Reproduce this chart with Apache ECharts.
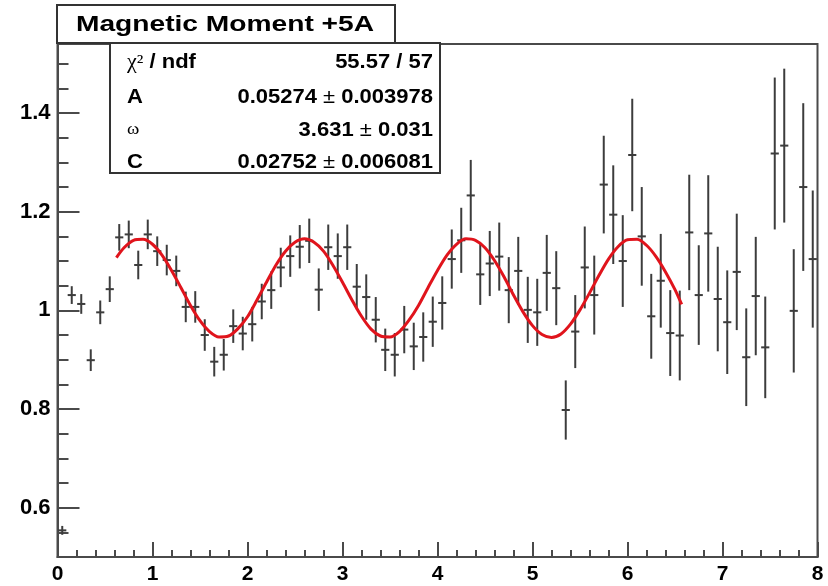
<!DOCTYPE html>
<html>
<head>
<meta charset="utf-8">
<title>Magnetic Moment +5A</title>
<script src="https://cdn.jsdelivr.net/npm/echarts@6.0.0/dist/echarts.min.js"></script>
<style>
  html, body { margin: 0; padding: 0; background: #fff; }
  #chart { width: 828px; height: 586px; }
</style>
</head>
<body>
<div id="chart"></div>
<script>
  // histogram bin centres (bin width 0.1)
  const binCenters = [
    0.05, 0.15, 0.25, 0.35, 0.45, 0.55, 0.65, 0.75, 0.85, 0.95,
    1.05, 1.15, 1.25, 1.35, 1.45, 1.55, 1.65, 1.75, 1.85, 1.95,
    2.05, 2.15, 2.25, 2.35, 2.45, 2.55, 2.65, 2.75, 2.85, 2.95,
    3.05, 3.15, 3.25, 3.35, 3.45, 3.55, 3.65, 3.75, 3.85, 3.95,
    4.05, 4.15, 4.25, 4.35, 4.45, 4.55, 4.65, 4.75, 4.85, 4.95,
    5.05, 5.15, 5.25, 5.35, 5.45, 5.55, 5.65, 5.75, 5.85, 5.95,
    6.05, 6.15, 6.25, 6.35, 6.45, 6.55, 6.65, 6.75, 6.85, 6.95,
    7.05, 7.15, 7.25, 7.35, 7.45, 7.55, 7.65, 7.75, 7.85, 7.95
  ];

  const binValues = [
    0.554, 1.031, 1.013, 0.899, 0.996, 1.043, 1.148, 1.154, 1.092, 1.154,
    1.120, 1.102, 1.080, 1.007, 1.007, 0.950, 0.896, 0.910, 0.968, 0.953,
    0.972, 1.018, 1.041, 1.087, 1.110, 1.129, 1.141, 1.042, 1.128, 1.110,
    1.128, 1.048, 1.027, 0.981, 0.920, 0.910, 0.961, 0.927, 0.946, 0.977,
    1.015, 1.104, 1.142, 1.233, 1.073, 1.095, 1.109, 1.041, 1.080, 1.001,
    0.996, 1.076, 1.045, 0.798, 0.957, 1.087, 1.031, 1.255, 1.194, 1.100,
    1.315, 1.150, 0.988, 1.060, 0.954, 0.949, 1.158, 1.031, 1.156, 1.023,
    0.976, 1.078, 0.905, 1.029, 0.925, 1.318, 1.334, 0.999, 1.250, 1.104
  ];

  const binErrors = [
    0.009, 0.018, 0.020, 0.022, 0.024, 0.026, 0.027, 0.028, 0.029, 0.030,
    0.030, 0.031, 0.031, 0.031, 0.032, 0.032, 0.030, 0.032, 0.034, 0.034,
    0.035, 0.036, 0.038, 0.040, 0.042, 0.044, 0.045, 0.043, 0.046, 0.046,
    0.046, 0.046, 0.046, 0.046, 0.043, 0.044, 0.048, 0.048, 0.050, 0.051,
    0.054, 0.060, 0.066, 0.072, 0.062, 0.066, 0.069, 0.067, 0.069, 0.067,
    0.068, 0.077, 0.075, 0.060, 0.074, 0.083, 0.080, 0.099, 0.100, 0.093,
    0.114, 0.100, 0.086, 0.095, 0.087, 0.091, 0.117, 0.101, 0.118, 0.106,
    0.105, 0.118, 0.099, 0.120, 0.103, 0.154, 0.156, 0.125, 0.170, 0.139
  ];

  // fitted curve
  const fitX = [
    0.62, 0.7, 0.8, 0.9, 1.0, 1.1, 1.2, 1.3, 1.4, 1.5, 1.6, 1.7, 1.8, 1.9,
    2.0, 2.1, 2.2, 2.3, 2.4, 2.5, 2.6, 2.7, 2.8, 2.9,
    3.0, 3.1, 3.2, 3.3, 3.4, 3.5, 3.6, 3.7, 3.8, 3.9,
    4.0, 4.1, 4.2, 4.3, 4.4, 4.5, 4.6, 4.7, 4.8, 4.9,
    5.0, 5.1, 5.2, 5.3, 5.4, 5.5, 5.6, 5.7, 5.8, 5.9,
    6.0, 6.1, 6.2, 6.3, 6.4, 6.5, 6.57
  ];
  const fitY = [
    1.107, 1.127, 1.142, 1.144, 1.134, 1.112, 1.081, 1.046, 1.010, 0.979, 0.957, 0.946, 0.948, 0.963,
    0.987, 1.021, 1.057, 1.092, 1.120, 1.138, 1.145, 1.138, 1.120, 1.091,
    1.057, 1.021, 0.988, 0.962, 0.948, 0.946, 0.957, 0.980, 1.010, 1.046,
    1.081, 1.112, 1.134, 1.145, 1.142, 1.127, 1.101, 1.068, 1.031, 0.997,
    0.969, 0.951, 0.945, 0.952, 0.972, 1.001, 1.035, 1.071, 1.104, 1.129,
    1.143, 1.144, 1.132, 1.109, 1.078, 1.042, 1.012
  ];

  const xTickValues = [0, 1, 2, 3, 4, 5, 6, 7, 8];
  const yTickValues = [0.6, 0.8, 1.0, 1.2, 1.4];

  const statsRows = [
    { label: 'χ²', labelTail: ' / ndf', value: '55.57 / 57', error: null },
    { label: 'A', labelTail: '', value: '0.05274', error: '0.003978' },
    { label: 'ω', labelTail: '', value: '3.631', error: '0.031' },
    { label: 'C', labelTail: '', value: '0.02752', error: '0.006081' }
  ];

  const titleText = 'Magnetic Moment +5A';

  const FONT = '"Liberation Sans", Arial, Helvetica, sans-serif';
  const SERIF = '"Liberation Serif", "DejaVu Serif", serif';
  const AXIS_COLOR = '#4a4a4a';
  const MARK_COLOR = '#3c3c3c';
  const HALF_BIN = 0.043;

  const Y_MIN = 0.5;
  const Y_MAX = 1.54;
  const GRID_TOP = 44;
  const GRID_BOTTOM = 29;
  const GRID_LEFT = 57.5;
  const GRID_RIGHT = 10.5;
  const plotHeight = 586 - GRID_TOP - GRID_BOTTOM;
  const pxPerUnit = plotHeight / (Y_MAX - Y_MIN);
  // second grid carries the long y ticks and labels; it starts at the first labelled value
  const MAJOR_MIN = yTickValues[0];
  const majorBottom = GRID_BOTTOM + (MAJOR_MIN - Y_MIN) * pxPerUnit;

  const points = binCenters.map((x, i) => [x, binValues[i], binErrors[i]]);
  const fitData = fitX.map((x, i) => [x, fitY[i]]);

  function formatY(value) {
    if (!yTickValues.some((t) => Math.abs(t - value) < 1e-6)) {
      return '';
    }
    return Math.abs(value - 1) < 1e-6 ? '1' : value.toFixed(1);
  }

  function renderErrorBar(params, api) {
    const x = api.value(0);
    const y = api.value(1);
    const e = api.value(2);
    const top = api.coord([x, y + e]);
    const bottom = api.coord([x, y - e]);
    const left = api.coord([x - HALF_BIN, y]);
    const right = api.coord([x + HALF_BIN, y]);
    const style = { stroke: MARK_COLOR, lineWidth: 2 };
    return {
      type: 'group',
      children: [
        { type: 'line', shape: { x1: top[0], y1: top[1], x2: bottom[0], y2: bottom[1] }, style },
        { type: 'line', shape: { x1: left[0], y1: left[1], x2: right[0], y2: right[1] }, style }
      ]
    };
  }

  function statsGraphics() {
    const rowY = [62.5, 97, 130, 162];
    const items = [
      {
        type: 'rect', z: 100,
        shape: { x: 110, y: 43, width: 330, height: 130 },
        style: { fill: '#fff', stroke: '#333', lineWidth: 2 }
      }
    ];
    statsRows.forEach((row, i) => {
      const greek = row.label === 'χ²' || row.label === 'ω';
      items.push({
        type: 'text', z: 101, x: 127, y: rowY[i], scaleX: 1.1,
        style: {
          text: `{l|${row.label}}{t|${row.labelTail}}`,
          align: 'left', verticalAlign: 'middle',
          textAlign: 'left', textVerticalAlign: 'middle',
          rich: {
            l: greek
              ? { font: `${row.label === 'ω' ? 17 : 20}px ${SERIF}`, fill: '#000' }
              : { font: `bold 20px ${FONT}`, fill: '#000' },
            t: { font: `bold 20px ${FONT}`, fill: '#000' }
          }
        }
      });
      const text = row.error
        ? `{b|${row.value}}{s| }{p|±}{s| }{b|${row.error}}`
        : `{b|${row.value}}`;
      items.push({
        type: 'text', z: 101, x: 433, y: rowY[i], scaleX: 1.1,
        style: {
          text,
          align: 'right', verticalAlign: 'middle',
          textAlign: 'right', textVerticalAlign: 'middle',
          rich: {
            b: { font: `bold 20px ${FONT}`, fill: '#000' },
            p: { font: `20px ${FONT}`, fill: '#000' },
            s: { font: `bold 20px ${FONT}`, fill: '#000' }
          }
        }
      });
    });
    return items;
  }

  const option = {
    animation: false,
    backgroundColor: '#fff',
    grid: [
      {
        left: GRID_LEFT, right: GRID_RIGHT, top: GRID_TOP, bottom: GRID_BOTTOM,
        show: true, borderColor: AXIS_COLOR, borderWidth: 2, backgroundColor: 'transparent'
      },
      { left: GRID_LEFT, right: GRID_RIGHT, top: GRID_TOP, bottom: majorBottom }
    ],
    xAxis: [
      {
        type: 'value', gridIndex: 0, min: xTickValues[0], max: xTickValues[xTickValues.length - 1], interval: 1,
        axisLine: { show: true, lineStyle: { color: AXIS_COLOR, width: 2 } },
        axisTick: { show: true, inside: true, length: 15, lineStyle: { color: AXIS_COLOR, width: 2 } },
        minorTick: { show: true, splitNumber: 5, length: 7, lineStyle: { color: AXIS_COLOR, width: 2 } },
        axisLabel: { color: '#000', fontFamily: FONT, fontWeight: 'bold', fontSize: 21, margin: 7 },
        splitLine: { show: false }
      },
      { type: 'value', gridIndex: 1, min: 0, max: 8, show: false }
    ],
    yAxis: [
      {
        type: 'value', gridIndex: 0, min: Y_MIN, max: Y_MAX, interval: 0.05,
        axisLine: { show: true, lineStyle: { color: AXIS_COLOR, width: 2 } },
        axisTick: { show: true, inside: true, length: 11, lineStyle: { color: AXIS_COLOR, width: 2 } },
        axisLabel: { show: false },
        splitLine: { show: false }
      },
      {
        type: 'value', gridIndex: 1, min: MAJOR_MIN, max: Y_MAX, interval: 0.2,
        axisLine: { show: false },
        axisTick: { show: true, inside: true, length: 22, lineStyle: { color: AXIS_COLOR, width: 2 } },
        axisLabel: {
          color: '#000', fontFamily: FONT, fontWeight: 'bold', fontSize: 22, margin: 7,
          formatter: formatY, showMaxLabel: false
        },
        splitLine: { show: false }
      }
    ],
    series: [
      {
        type: 'custom', xAxisIndex: 0, yAxisIndex: 0,
        renderItem: renderErrorBar,
        data: points, clip: true, z: 3
      },
      {
        type: 'line', xAxisIndex: 0, yAxisIndex: 0,
        data: fitData, smooth: 0.3, showSymbol: false, symbol: 'none',
        lineStyle: { color: '#e0141c', width: 3 }, z: 4
      }
    ],
    graphic: [
      {
        type: 'rect', z: 100,
        shape: { x: 57, y: 5, width: 338, height: 38 },
        style: { fill: '#fff', stroke: '#333', lineWidth: 2 }
      },
      {
        type: 'text', z: 101, x: 225, y: 24.5, scaleX: 1.28,
        style: {
          text: titleText, font: `bold 22px ${FONT}`, fill: '#000',
          align: 'center', verticalAlign: 'middle',
          textAlign: 'center', textVerticalAlign: 'middle'
        }
      }
    ].concat(statsGraphics())
  };

  const chart = echarts.init(document.getElementById('chart'), null, { renderer: 'canvas' });
  chart.setOption(option);
</script>
</body>
</html>
